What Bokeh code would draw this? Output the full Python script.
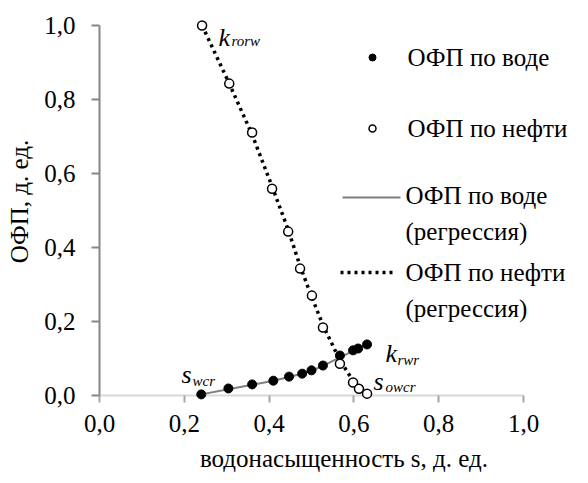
from bokeh.plotting import figure
from bokeh.models import FixedTicker, CustomJSTickFormatter
from bokeh.core.properties import value
from bokeh.embed import file_html
from bokeh.resources import INLINE

# Relative permeability data (water saturation, fraction)
sw_water = [0.240, 0.304, 0.360, 0.410, 0.447, 0.478, 0.500, 0.527, 0.567, 0.598, 0.610, 0.631]
kr_water = [0.003, 0.019, 0.030, 0.040, 0.051, 0.059, 0.068, 0.081, 0.108, 0.122, 0.127, 0.138]

sw_oil = [0.242, 0.306, 0.360, 0.407, 0.445, 0.473, 0.501, 0.527, 0.567, 0.598, 0.612, 0.631]
kr_oil = [1.000, 0.843, 0.711, 0.559, 0.443, 0.343, 0.270, 0.184, 0.086, 0.035, 0.018, 0.005]

# Regression curves
sw_water_fit = [0.240, 0.304, 0.360, 0.410, 0.447, 0.478, 0.500, 0.527, 0.567, 0.598, 0.610, 0.631]
kr_water_fit = [0.003, 0.017, 0.029, 0.040, 0.050, 0.059, 0.067, 0.080, 0.103, 0.120, 0.127, 0.138]

sw_oil_fit = [0.242, 0.306, 0.360, 0.407, 0.445, 0.473, 0.501, 0.527, 0.567, 0.598, 0.612, 0.631]
kr_oil_fit = [1.000, 0.843, 0.705, 0.565, 0.448, 0.350, 0.265, 0.190, 0.095, 0.040, 0.020, 0.000]

x_ticks = [0.0, 0.2, 0.4, 0.6, 0.8, 1.0]
y_ticks = [0.0, 0.2, 0.4, 0.6, 0.8, 1.0]

FONT = "Liberation Serif"
W, H = 588, 483
LEFT, BOTTOM = 99, 81
XS, YS = 424.0, 370.0   # pixels per unit
Y0 = 395                # pixel row of y = 0


def dx(px):
    return (px - LEFT) / XS


def dy(py):
    return (Y0 - py) / YS


p = figure(width=W, height=H, output_backend="svg", toolbar_location=None,
           x_range=(0, dx(W)), y_range=(dy(H - BOTTOM), dy(0)),
           min_border_left=LEFT, min_border_right=0, min_border_top=0,
           min_border_bottom=BOTTOM)
p.outline_line_color = None
p.background_fill_color = "white"
p.border_fill_color = "white"
p.xgrid.visible = False
p.ygrid.visible = False

fmt = CustomJSTickFormatter(code="return tick.toFixed(1).replace('.', ',');")

xa = p.xaxis[0]
xa.ticker = FixedTicker(ticks=x_ticks)
xa.formatter = fmt
xa.bounds = (0, 1)
xa.axis_line_color = None
xa.major_tick_in = 7
xa.major_tick_out = 0
xa.major_tick_line_color = "#a6a6a6"
xa.major_tick_line_width = 2
xa.minor_tick_line_color = None
xa.major_label_text_font = FONT
xa.major_label_text_font_size = "25px"
xa.major_label_text_color = "black"
xa.major_label_standoff = 12
xa.axis_label = "водонасыщенность s, д. ед."
xa.axis_label_text_font = FONT
xa.axis_label_text_font_size = "25px"
xa.axis_label_text_font_style = "normal"
xa.axis_label_text_color = "black"
xa.axis_label_standoff = 10

ya = p.yaxis[0]
ya.ticker = FixedTicker(ticks=y_ticks)
ya.formatter = fmt
ya.bounds = (0, 1)
ya.axis_line_color = "#868686"
ya.axis_line_width = 2
ya.major_tick_in = 0
ya.major_tick_out = 8
ya.major_tick_line_color = "#868686"
ya.major_tick_line_width = 2
ya.minor_tick_line_color = None
ya.major_label_text_font = FONT
ya.major_label_text_font_size = "25px"
ya.major_label_text_color = "black"
ya.major_label_standoff = 16
ya.axis_label = "ОФП, д. ед."
ya.axis_label_text_font = FONT
ya.axis_label_text_font_size = "25px"
ya.axis_label_text_font_style = "normal"
ya.axis_label_text_color = "black"
ya.axis_label_standoff = 8

# horizontal axis line along y = 0
p.segment(x0=[0], y0=[0], x1=[1], y1=[0], line_color="#d9d9d9", line_width=2)

# regression curves
p.line(sw_water_fit, kr_water_fit, line_color="#7f7f7f", line_width=2)
p.line(sw_oil_fit, kr_oil_fit, line_color="black", line_width=3.5, line_dash="3 4")

# measured points
p.scatter(sw_water, kr_water, marker="circle", size=9, fill_color="black", line_color="black")
p.scatter(sw_oil, kr_oil, marker="circle", size=9, fill_color="white", line_color="black",
          line_width=1.5)

# legend
p.scatter([dx(372)], [dy(57)], marker="circle", size=7, fill_color="black", line_color="black")
p.scatter([dx(372)], [dy(128)], marker="circle", size=7, fill_color="white", line_color="black",
          line_width=1.5)
p.line([dx(342), dx(400)], [dy(197), dy(197)], line_color="#7f7f7f", line_width=2)
p.line([dx(340), dx(394)], [dy(272), dy(272)], line_color="black", line_width=3.5,
       line_dash="3 4")

# legend captions, centred vertically on their rows
leg_texts = ["ОФП по воде", "ОФП по нефти", "ОФП по воде", "(регрессия)",
             "ОФП по нефти", "(регрессия)"]
leg_y = [57, 128, 195, 231, 272, 308]
leg_x = [407, 407, 405, 405, 405, 405]
p.text(x=[dx(v) for v in leg_x], y=[dy(v) for v in leg_y], text=leg_texts,
       text_font=value(FONT), text_font_size="25px",
       text_baseline="middle", text_align="left", text_color="black")


# endpoint labels: italic letter with italic subscript
def sub_label(main_left, base, main, sub, sub_left, sub_base, main_size="26px", sub_size="15px"):
    p.text(x=[dx(main_left)], y=[dy(base)], text=[main], text_font=value(FONT),
           text_font_style="italic", text_font_size=main_size, text_baseline="alphabetic",
           text_align="left", text_color="black")
    p.text(x=[dx(sub_left)], y=[dy(sub_base)], text=[sub], text_font=value(FONT),
           text_font_style="italic", text_font_size=sub_size, text_baseline="alphabetic",
           text_align="left", text_color="black")


sub_label(218, 37, "k", "rorw", 231, 40)
sub_label(385, 353, "k", "rwr", 397, 359)
sub_label(181, 374, "s", "wcr", 192, 380)
sub_label(373, 381, "s", "owcr", 385, 386)

open("out.html", "w").write(file_html(p, INLINE))
